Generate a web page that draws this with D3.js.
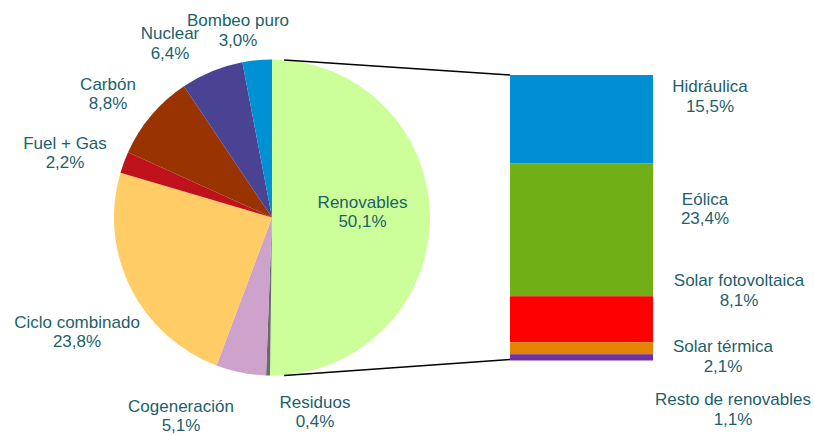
<!DOCTYPE html>
<html>
<head>
<meta charset="utf-8">
<script src="https://cdn.jsdelivr.net/npm/d3@7"></script>
<style>
  body { margin: 0; background: #fff; }
  text { font-family: "Liberation Sans", Arial, sans-serif; font-size: 17px; fill: #1d5f6c; }
</style>
</head>
<body>
<div class="chart"></div>
<script>
var width = 814
var height = 435

// pie slices, clockwise from 12 o'clock
var pieNames = ["Renovables", "Residuos", "Cogeneración", "Ciclo combinado", "Fuel + Gas", "Carbón", "Nuclear", "Bombeo puro"];
var pieValues = [50.1, 0.4, 5.1, 23.8, 2.2, 8.8, 6.4, 3.0];
var pieColors = ["#ccff99", "#6b6b6b", "#cda2cb", "#ffcc66", "#c0121d", "#993300", "#4a4394", "#0090d4"];

// breakdown of renovables, top to bottom
var barNames = ["Hidráulica", "Eólica", "Solar fotovoltaica", "Solar térmica", "Resto de renovables"];
var barValues = [15.5, 23.4, 8.1, 2.1, 1.1];
var barColors = ["#008fd3", "#70af15", "#ff0000", "#e48400", "#7030a0"];

var fmt = function(v) { return d3.format(".1f")(v).replace(".", ",") + "%"; };

var cx = 272, cy = 217.5, radius = 158;

var svg = d3.select(".chart").append("svg")
    .attr("width", width)
    .attr("height", height);

var pie = d3.pie().sort(null).value(function(d) { return d; });
var arc = d3.arc().innerRadius(0).outerRadius(radius);
var arcs = pie(pieValues);

var g = svg.append("g").attr("transform", "translate(" + cx + "," + cy + ")");
g.selectAll("path")
    .data(arcs)
    .enter().append("path")
    .attr("d", arc)
    .style("fill", function(d, i) { return pieColors[i]; });

// stacked bar
var barTop = 75, barBottom = 360.5, barLeft = 510, barRight = 653;
var total = d3.sum(barValues);
var y = d3.scaleLinear().domain([0, total]).range([barTop, barBottom]);
var cum = d3.cumsum(barValues);
var stacks = barValues.map(function(v, i) { return { start: cum[i] - v, end: cum[i], name: barNames[i], value: v, color: barColors[i] }; });

svg.selectAll(".seg")
    .data(stacks)
    .enter().append("rect")
    .attr("class", "seg")
    .attr("x", barLeft)
    .attr("width", barRight - barLeft)
    .attr("y", function(d) { return y(d.start); })
    .attr("height", function(d) { return y(d.end) - y(d.start); })
    .style("fill", function(d) { return d.color; });

// connector lines
var off = 0.077;
var topPt = [cx + radius * Math.sin(off), cy - radius * Math.cos(off)];
var botPt = [cx + radius * Math.sin(Math.PI - off), cy - radius * Math.cos(Math.PI - off)];
svg.append("line").attr("x1", topPt[0]).attr("y1", topPt[1]).attr("x2", barLeft).attr("y2", y(0))
    .style("stroke", "#000").style("stroke-width", 1.5);
svg.append("line").attr("x1", botPt[0]).attr("y1", botPt[1] + 0.5).attr("x2", barLeft).attr("y2", y(total) - 1)
    .style("stroke", "#000").style("stroke-width", 1.5);

// labels (centre x, first baseline)
var pieLabelPos = [[362.5, 207.5], [315, 407.5], [181, 411.5], [77, 327.5], [65, 148.5], [108, 89.5], [170, 39], [238, 26]];
var barLabelPos = [[710, 92], [705, 204.5], [739, 286], [723, 352], [733, 405]];

function label(x0, y0, name, value) {
  var t = svg.append("text").attr("text-anchor", "middle");
  t.append("tspan").attr("x", x0).attr("y", y0).text(name);
  t.append("tspan").attr("x", x0).attr("y", y0 + 19.7).text(fmt(value));
}

pieNames.forEach(function(n, i) { label(pieLabelPos[i][0], pieLabelPos[i][1], n, pieValues[i]); });
barNames.forEach(function(n, i) { label(barLabelPos[i][0], barLabelPos[i][1], n, barValues[i]); });
</script>
</body>
</html>
